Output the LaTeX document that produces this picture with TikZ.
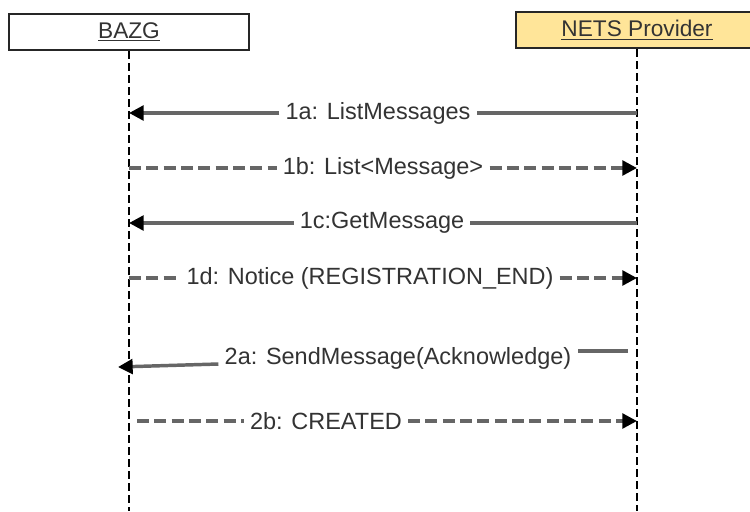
\documentclass[tikz,border=0pt]{standalone}
\usepackage{fontspec}
\setmainfont{Liberation Sans}
\usetikzlibrary{arrows.meta}
\definecolor{txt}{HTML}{333333}
\definecolor{ln}{HTML}{666666}
\definecolor{nets}{HTML}{FFE599}
\tikzset{
  actor/.style={draw=black!85,line width=1.5pt,minimum width=180pt,minimum height=27pt,inner sep=0pt,text=txt,font=\fontsize{17}{20}\selectfont},
  life/.style={draw=black,line width=1.4pt,dash pattern=on 6pt off 3pt},
  lbl/.style={fill=white,text=txt,inner xsep=4.5pt,inner ysep=1.5pt,font=\fontsize{17.6}{20}\selectfont},
  msg/.style={draw=ln,line width=2.6pt},
  rep/.style={draw=ln,line width=2.6pt,dash pattern=on 9pt off 4pt},
  tip/.style={-{Triangle[length=11pt,width=11pt,color=black]}}
}
\begin{document}
\begin{tikzpicture}[x=0.75pt,y=-0.75pt]
\useasboundingbox (0,0) rectangle (750,511);
\node[actor,fill=white] (bazg) at (129,32) {\underline{BAZG}};
\node[actor,fill=nets,minimum width=181.5pt] (prov) at (637,30) {\underline{NETS Provider}};
\coordinate (bend) at (129,511);
\coordinate (pend) at (637,511);
\draw[life] (bazg.south) -- (bend);
\draw[life] (prov.south) -- (pend);
% 1a
\coordinate (p1a) at (637,113); \coordinate (b1a) at (129,113);
\node[lbl] (l1a) at (378,113) {1a: ListMessages};
\draw[msg] (p1a) -- (l1a);
\draw[msg,tip] (l1a) -- (b1a);
% 1b
\coordinate (b1b) at (129,168); \coordinate (p1b) at (637,168);
\node[lbl] (l1b) at (383,168) {1b: List<Message>};
\draw[rep] (b1b) -- (l1b);
\draw[rep,tip] (l1b) -- (p1b);
% 1c
\coordinate (p1c) at (637,223); \coordinate (b1c) at (129,223);
\node[lbl] (l1c) at (382,223) {1c:GetMessage};
\draw[msg] (p1c) -- (l1c);
\draw[msg,tip] (l1c) -- (b1c);
% 1d
\coordinate (b1d) at (129,278); \coordinate (p1d) at (637,278);
\node[lbl] (l1d) at (370,278) {1d: Notice (REGISTRATION\_END)};
\draw[rep] (b1d) -- (l1d);
\draw[rep,tip] (l1d) -- (p1d);
% 2a
\coordinate (p2a) at (628,351); \coordinate (b2a) at (118,367);
\node[lbl] (l2a) at (398,358) {2a: SendMessage(Acknowledge)};
\draw[msg] (p2a) -- (l2a.east |- p2a);
\draw[msg,tip] (l2a.west |- 0,364) -- (b2a);
% 2b
\coordinate (b2b) at (137,421); \coordinate (p2b) at (637,421);
\node[lbl] (l2b) at (326,421) {2b: CREATED};
\draw[rep] (b2b) -- (l2b);
\draw[rep,tip] (l2b) -- (p2b);
\end{tikzpicture}
\end{document}
